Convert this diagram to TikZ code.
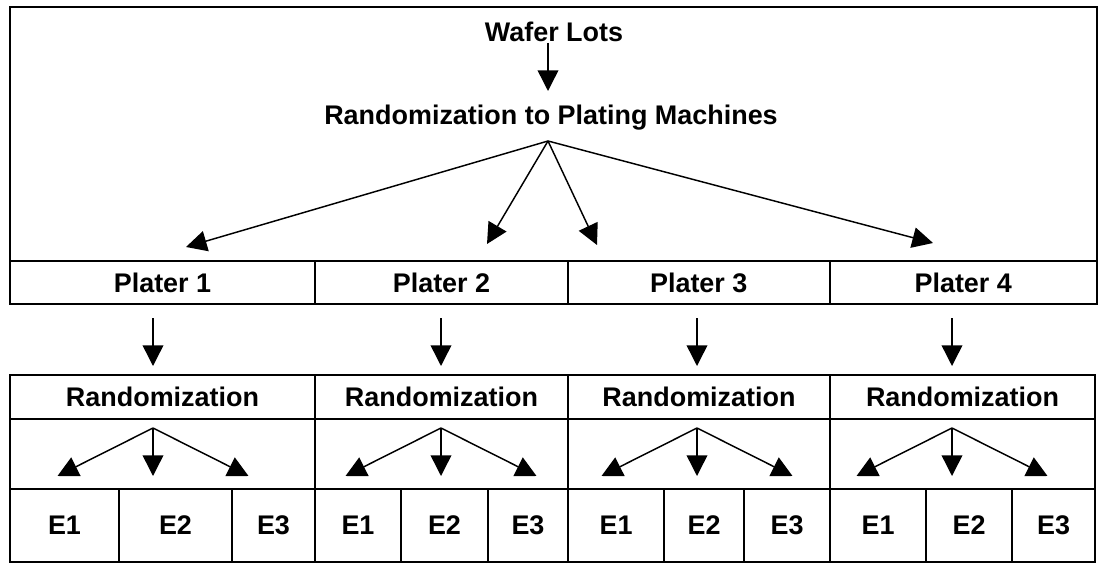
\documentclass[tikz,border=0pt]{standalone}
\usepackage{fontspec}
\setmainfont{Liberation Sans}
\usetikzlibrary{arrows.meta}

% a framed cell given by its corners (x1,y1) and (x2,y2)
\newcommand\cellat[6]{%
  \node[cell, minimum width={(#4-#2)*0.75pt}, minimum height={(#5-#3)*0.75pt}]
    (#1) at ({(#2+#4)/2},{(#3+#5)/2}) {#6};}

% one plater block: randomization header, fan of arrows, three experiment cells
% #1 suffix, #2 left, #3 first divider, #4 second divider, #5 right, #6 hub x
\newcommand\platerblock[6]{%
  \cellat{r#1}{#2}{375}{#5}{419}{Randomization}
  \cellat{f#1}{#2}{419}{#5}{489}{}
  \cellat{ea#1}{#2}{489}{#3}{561.5}{E1}
  \cellat{eb#1}{#3}{489}{#4}{561.5}{E2}
  \cellat{ec#1}{#4}{489}{#5}{561.5}{E3}
  \coordinate (hub#1) at (#6,428);
  \coordinate (tl#1) at ({#6-95.5},476);
  \coordinate (tm#1) at (#6,476);
  \coordinate (tr#1) at ({#6+95.5},476);
  \coordinate (in#1) at (#6,318);
  \coordinate (out#1) at (#6,366);
  \draw[link] (hub#1) -- (tl#1);
  \draw[link] (hub#1) -- (tm#1);
  \draw[link] (hub#1) -- (tr#1);
  \draw[link] (in#1) -- (out#1);}

\begin{document}
\begin{tikzpicture}[x=0.75pt,y=-0.75pt,
  lbl/.style={font=\bfseries\fontsize{20.2}{24}\selectfont, inner sep=0pt, text depth=0pt},
  cell/.style={lbl, draw, line width=1.5pt, outer sep=0pt},
  link/.style={line width=1.1pt, -{Triangle[length=15.5pt,width=15.5pt]}},
]
\useasboundingbox (0,0) rectangle (1099,563);

% upper frame with the lot randomization
\cellat{frame}{10}{7}{1097}{261}{}
\node[lbl] (wafer) at (554,31.5) {Wafer Lots};
\node[lbl] (rand) at (551,114.5) {Randomization to Plating Machines};
\coordinate (w0) at (548,43);
\coordinate (w1) at (548,91);
\draw[link] (w0) -- (w1);

\coordinate (hub) at (548,141);
\coordinate (to1) at (186,247);
\coordinate (to2) at (487,244);
\coordinate (to3) at (597,245);
\coordinate (to4) at (933,243);
\foreach \k in {1,2,3,4} \draw[link] (hub) -- (to\k);

% platers
\cellat{p1}{10}{261}{315}{304}{Plater 1}
\cellat{p2}{315}{261}{568}{304}{Plater 2}
\cellat{p3}{568}{261}{829.5}{304}{Plater 3}
\cellat{p4}{829.5}{261}{1097}{304}{Plater 4}

% randomization within each plater
\platerblock{1}{10}{119}{232}{315}{153}
\platerblock{2}{315}{401}{488}{568}{441}
\platerblock{3}{568}{664}{744}{830}{697}
\platerblock{4}{830}{926}{1012}{1095}{952}
\end{tikzpicture}
\end{document}
